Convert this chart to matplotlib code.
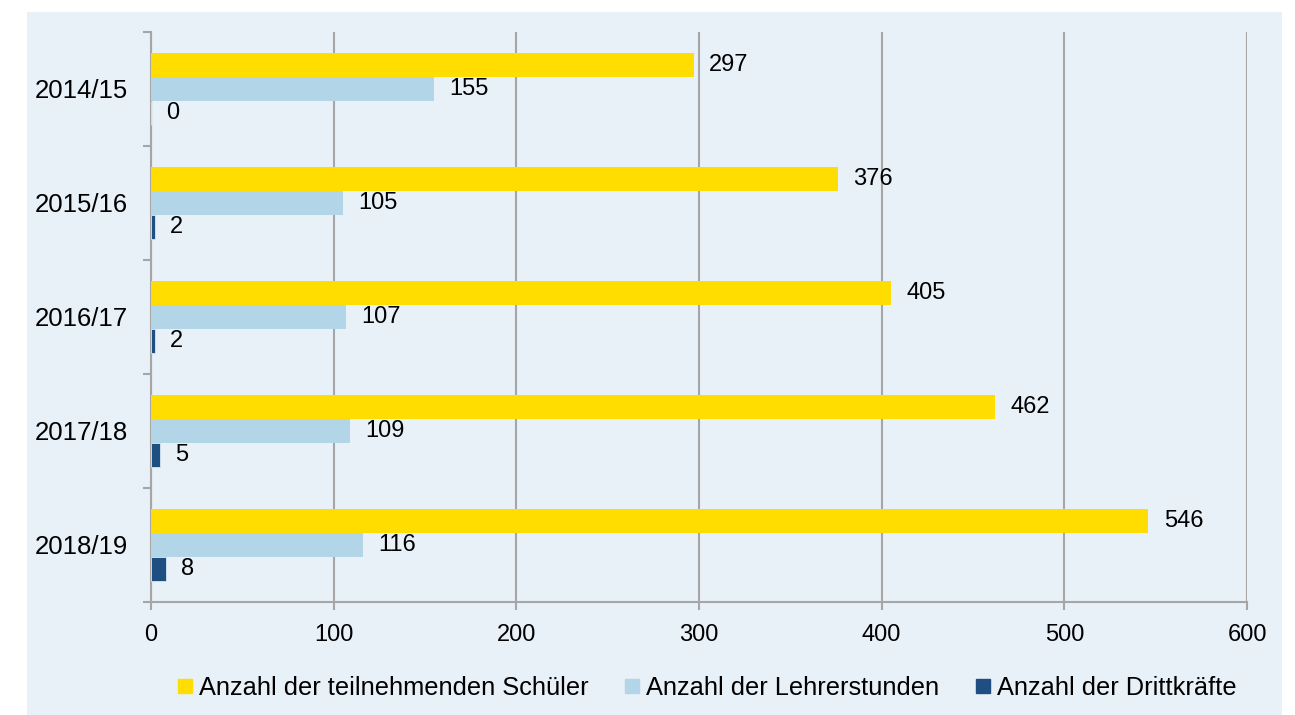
import matplotlib
matplotlib.use("Agg")
import matplotlib.pyplot as plt
from matplotlib.patches import Rectangle
from matplotlib.lines import Line2D
import numpy as np

plt.rcParams['font.family'] = ['Liberation Sans', 'DejaVu Sans']

years = ["2014/15", "2015/16", "2016/17", "2017/18", "2018/19"]
schueler = [297, 376, 405, 462, 546]
lehrerstunden = [155, 105, 107, 109, 116]
drittkraefte = [0, 2, 2, 5, 8]

series_names = ["Anzahl der teilnehmenden Schüler",
                "Anzahl der Lehrerstunden",
                "Anzahl der Drittkräfte"]
colors = ["#FFDD00", "#B2D5E8", "#1F4E80"]
bg = "#E8F0F8"

fig = plt.figure(figsize=(12.95, 7.15), dpi=100)
fig.patch.set_facecolor("white")
# light panel behind everything
fig.add_artist(Rectangle((27 / 1295, 0), 1255 / 1295, 1 - 12 / 715,
                         transform=fig.transFigure, facecolor=bg,
                         edgecolor="none", zorder=-5))

ax = fig.add_axes([151 / 1295, 1 - 602 / 715, 1096 / 1295, 570 / 715])
ax.set_facecolor(bg)

y = np.arange(len(years))
h = 0.21
for k, (vals, col) in enumerate(zip([schueler, lehrerstunden, drittkraefte], colors)):
    pos = y + (k - 1) * h
    ax.barh(pos, vals, height=h, color=col, edgecolor="#D8E6F2",
            linewidth=0.6 if k == 2 else 0, zorder=3, label=series_names[k])
    for p, v in zip(pos, vals):
        ax.annotate(str(v), xy=(v, p), xytext=(11, 0), textcoords="offset points",
                    va="center", ha="left", fontsize=17, color="black")

ax.set_xlim(0, 600)
ax.set_ylim(len(years) - 0.5, -0.5)
ax.set_xticks(np.arange(0, 601, 100))
ax.set_yticks(y)
ax.set_yticklabels(years)
ax.set_yticks(np.arange(-0.5, len(years)), minor=True)

ax.grid(axis="x", color="#A6A6A6", linewidth=1.5, zorder=1)
ax.set_axisbelow(True)
for s in ["top", "right"]:
    ax.spines[s].set_visible(False)
for s in ["left", "bottom"]:
    ax.spines[s].set_color("#A6A6A6")
    ax.spines[s].set_linewidth(1.5)

ax.tick_params(axis="y", which="major", length=0, pad=16.5, labelsize=18.5)
ax.tick_params(axis="y", which="minor", length=6, width=1.5, color="#A6A6A6")
ax.tick_params(axis="x", length=6, width=1.5, color="#A6A6A6", pad=10, labelsize=17)

handles = [Line2D([], [], marker="s", linestyle="none", markersize=10,
                  markerfacecolor=c, markeredgecolor=c) for c in colors]
fig.legend(handles, series_names, loc="center", bbox_to_anchor=(0.544, 1 - 688 / 715),
           ncol=3, frameon=False, fontsize=18.3, handletextpad=0.05,
           columnspacing=1.2, handlelength=1.0)

fig.savefig("out.png", dpi=100, facecolor=fig.get_facecolor())
